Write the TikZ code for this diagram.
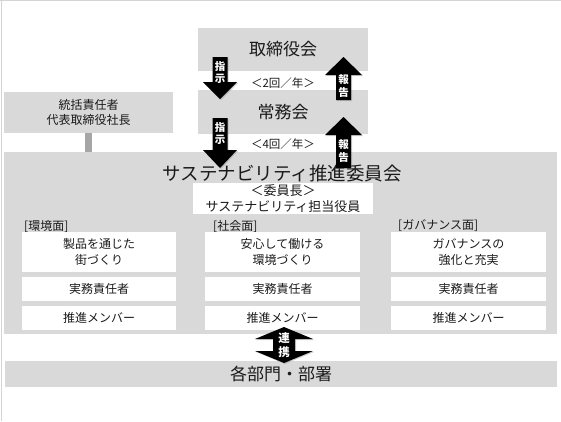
\documentclass[tikz,border=0pt]{standalone}
\usepackage{fontspec}
\setmainfont{Noto Sans CJK JP}
\usetikzlibrary{shadows}
\definecolor{boxgray}{HTML}{D9D9D9}
\definecolor{linkgray}{HTML}{A6A6A6}
\definecolor{edgegray}{HTML}{D4D4D4}
\definecolor{txt}{HTML}{1A1A1A}
\tikzset{
  graybox/.style={fill=boxgray, draw=none, inner sep=0pt, outer sep=0pt, text=txt, align=center},
  whitebox/.style={fill=white, draw=none, inner sep=0pt, outer sep=0pt, text=txt, align=center, font=\fontsize{12}{14}\selectfont},
  blockarrow/.style={fill=black, draw=none, drop shadow={shadow xshift=1pt, shadow yshift=-1pt, opacity=0.35, fill=gray}},
  arrowlabel/.style={text=white, font=\bfseries\fontsize{10.5}{11}\selectfont, inner sep=0pt},
  freq/.style={text=txt, font=\fontsize{11.5}{13}\selectfont, inner sep=0pt},
  collabel/.style={text=txt, font=\fontsize{12}{14}\selectfont, inner sep=0pt, anchor=west}
}
\begin{document}
\begin{tikzpicture}[x=1pt, y=-1pt]
\useasboundingbox (0,0) rectangle (561,421);
\fill[white] (0,0) rectangle (561,421);
% faint page edges
\draw[edgegray, line width=1pt] (0,0.5) -- (561,0.5);
\draw[edgegray, line width=1pt] (1.5,0) -- (1.5,421);

% top boxes
\node[graybox, minimum width=170pt, minimum height=43pt, font=\fontsize{17}{20}\selectfont] (board) at (283,49.5) {取締役会};
\node[graybox, minimum width=170pt, minimum height=44pt, font=\fontsize{17}{20}\selectfont] (jomu) at (283,112) {常務会};
\node[graybox, minimum width=169pt, minimum height=41pt, font=\fontsize{12}{15.5}\selectfont] (tokatsu) at (88.5,112.5) {統括責任者\\代表取締役社長};

% committee
\node[graybox, minimum width=553pt, minimum height=182pt] (committee) at (280.5,243) {};
\draw[fill=linkgray, draw=none] (tokatsu.south -| 85,0) rectangle (92,152);
\node[text=txt, font=\fontsize{18.5}{20}\selectfont, inner sep=0pt] (ctitle) at (282,173) {サステナビリティ推進委員会};
\node[whitebox, minimum width=180pt, minimum height=31pt, font=\fontsize{13}{15.5}\selectfont] (chair) at (283,198.5) {＜委員長＞\\サステナビリティ担当役員};

% columns
\node[collabel] (lenv) at (24,226) {[環境面]};
\node[collabel] (lsoc) at (213,226) {[社会面]};
\node[collabel] (lgov) at (398,226) {[ガバナンス面]};

\node[whitebox, minimum width=154pt, minimum height=40pt, font=\fontsize{12}{15.5}\selectfont] (env1) at (99,252) {製品を通じた\\街づくり};
\node[whitebox, minimum width=155pt, minimum height=40pt, font=\fontsize{12}{15.5}\selectfont] (soc1) at (282.5,252) {安心して働ける\\環境づくり};
\node[whitebox, minimum width=155pt, minimum height=40pt, font=\fontsize{12}{15.5}\selectfont] (gov1) at (468.5,252) {ガバナンスの\\強化と充実};

\node[whitebox, minimum width=154pt, minimum height=24pt] (env2) at (99,289) {実務責任者};
\node[whitebox, minimum width=155pt, minimum height=24pt] (soc2) at (282.5,289) {実務責任者};
\node[whitebox, minimum width=155pt, minimum height=24pt] (gov2) at (468.5,289) {実務責任者};

\node[whitebox, minimum width=154pt, minimum height=24pt] (env3) at (99,318) {推進メンバー};
\node[whitebox, minimum width=155pt, minimum height=24pt] (soc3) at (282.5,318) {推進メンバー};
\node[whitebox, minimum width=155pt, minimum height=24pt] (gov3) at (468.5,318) {推進メンバー};

% departments bar
\node[graybox, minimum width=552pt, minimum height=26pt, font=\fontsize{17}{20}\selectfont] (dept) at (281,374) {各部門・部署};

% frequency labels
\node[freq] (f1) at (283,83) {＜2回／年＞};
\node[freq] (f2) at (283,144) {＜4回／年＞};

% down arrows (指示)
\fill[blockarrow] (212.5,57) -- (227.5,57) -- (227.5,82) -- (237,82) -- (220,99) -- (203,82) -- (212.5,82) -- cycle;
\node[arrowlabel] (d1a) at (220,66.5) {指};
\node[arrowlabel] (d1b) at (220,79) {示};
\fill[blockarrow] (212.5,118) -- (227.5,118) -- (227.5,150) -- (237,150) -- (220,168) -- (203,150) -- (212.5,150) -- cycle;
\node[arrowlabel] (d2a) at (220,127.5) {指};
\node[arrowlabel] (d2b) at (220,140) {示};

% up arrows (報告)
\fill[blockarrow] (336,100) -- (351,100) -- (351,75) -- (362,75) -- (343.5,57) -- (325,75) -- (336,75) -- cycle;
\node[arrowlabel] (u1a) at (343.5,80) {報};
\node[arrowlabel] (u1b) at (343.5,92) {告};
\fill[blockarrow] (336,168) -- (351,168) -- (351,135) -- (362,135) -- (343.5,117) -- (325,135) -- (336,135) -- cycle;
\node[arrowlabel] (u2a) at (343.5,144.5) {報};
\node[arrowlabel] (u2b) at (343.5,157) {告};

% collaboration double arrow (連携)
\fill[blockarrow] (284,327) -- (313,339) -- (295,339) -- (295,351) -- (313,351) -- (284,363) -- (255,351) -- (273,351) -- (273,339) -- (255,339) -- cycle;
\node[arrowlabel, font=\bfseries\fontsize{11.5}{12}\selectfont] (c1) at (284,338.5) {連};
\node[arrowlabel, font=\bfseries\fontsize{11.5}{12}\selectfont] (c2) at (284,352) {携};
\end{tikzpicture}
\end{document}
